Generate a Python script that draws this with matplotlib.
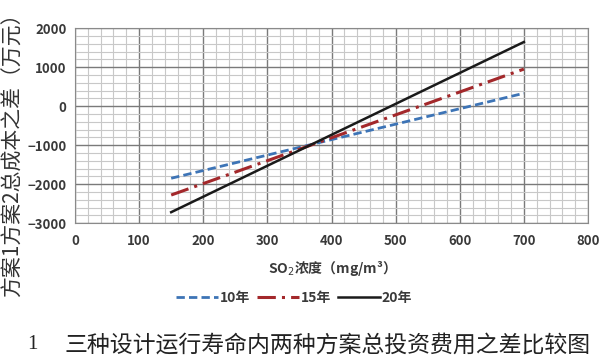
import matplotlib.pyplot as plt
import numpy as np

plt.rcParams['font.family'] = ['Noto Sans CJK SC', 'DejaVu Sans']

# SO2 concentration (mg/m3) and cost difference (10k yuan)
so2 = [150, 700]
diff_10 = [-1850, 330]
diff_15 = [-2280, 950]
diff_20 = [-2720, 1645]

x_ticks = np.arange(0, 801, 100)
y_ticks = np.arange(-3000, 2001, 1000)

fig = plt.figure(figsize=(6, 3.61), dpi=100)
ax = fig.add_axes([0.125, 0.382, 0.855, 0.54])

ax.plot(so2, diff_10, color='#3d74b6', linestyle=(0, (3, 1.5)), linewidth=2, label='10年')
ax.plot(so2, diff_15, color='#a3282b', linestyle=(0, (6, 2, 1, 2)), linewidth=2.2, label='15年')
ax.plot(so2, diff_20, color='#1a1a1a', linestyle='-', linewidth=1.8, label='20年')

ax.set_xlim(0, 800)
ax.set_ylim(-3000, 2000)
ax.set_xticks(x_ticks)
ax.set_yticks(y_ticks)
ax.set_xticks(np.arange(0, 801, 20), minor=True)
ax.set_yticks(np.arange(-3000, 2001, 200), minor=True)
ax.grid(which='major', color='#7a7a7a', linewidth=1.0)
ax.grid(which='minor', color='#c8c8c8', linewidth=0.8)
ax.set_axisbelow(True)
ax.tick_params(which='both', length=0)
ax.tick_params(axis='x', pad=8)
ax.tick_params(axis='y', pad=6)
for lbl in ax.get_xticklabels() + ax.get_yticklabels():
    lbl.set_fontweight('bold')
    lbl.set_fontsize(9.5)
    lbl.set_color('#3a3a3a')
for s in ax.spines.values():
    s.set_color('#8a8a8a')

fig.text(0.548, 0.255, 'SO$_2$浓度（mg/m³）', ha='center', va='center',
         fontsize=10, fontweight='bold', color='#3a3a3a')
fig.text(0.022, 0.585, '方案1方案2总成本之差（万元）', rotation=90, ha='center', va='center',
         fontsize=15, color='#333333')

leg = fig.legend(loc='center', bbox_to_anchor=(0.49, 0.175), ncol=3, frameon=False,
                 fontsize=10, handlelength=3.0, handletextpad=0.15, columnspacing=0.5)
for t in leg.get_texts():
    t.set_fontweight('bold')
    t.set_color('#3a3a3a')

fig.text(0.045, 0.045, '1', fontsize=15, family=['Liberation Serif'], va='center', color='#222222')
fig.text(0.108, 0.045, '三种设计运行寿命内两种方案总投资费用之差比较图', fontsize=16.5,
         va='center', color='#222222')

fig.savefig('out.png', dpi=100)
